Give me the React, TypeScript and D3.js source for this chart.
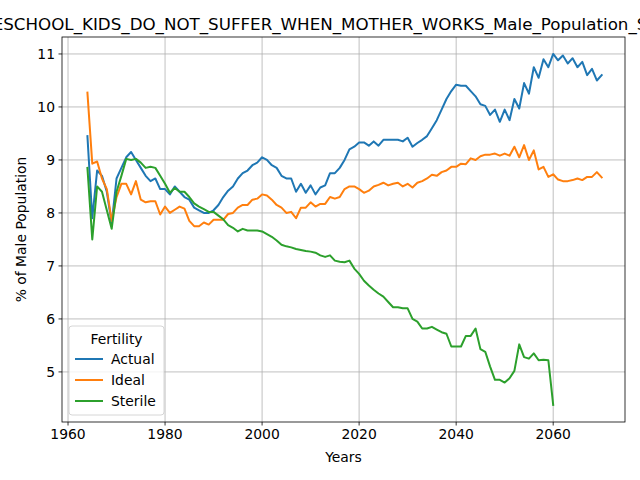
import React from 'react';
import * as d3 from 'd3';

const startYear = 1964;
const actual = [9.45, 7.9, 8.8, 8.7, 8.4, 7.8, 8.65, 8.85, 9.05, 9.15, 9.0, 8.85, 8.7, 8.6, 8.65, 8.45, 8.45, 8.35, 8.5, 8.4, 8.3, 8.25, 8.1, 8.05, 8.0, 8.0, 8.05, 8.15, 8.3, 8.42, 8.5, 8.65, 8.75, 8.8, 8.9, 8.95, 9.05, 9.0, 8.9, 8.85, 8.7, 8.65, 8.65, 8.4, 8.55, 8.38, 8.52, 8.35, 8.48, 8.52, 8.75, 8.75, 8.85, 9.0, 9.2, 9.25, 9.33, 9.33, 9.27, 9.35, 9.27, 9.38, 9.38, 9.38, 9.38, 9.35, 9.42, 9.25, 9.32, 9.38, 9.45, 9.6, 9.75, 9.95, 10.15, 10.3, 10.42, 10.4, 10.4, 10.3, 10.2, 10.05, 10.02, 9.85, 9.95, 9.72, 9.95, 9.75, 10.15, 9.97, 10.45, 10.25, 10.75, 10.55, 10.9, 10.75, 11.0, 10.88, 10.97, 10.82, 10.92, 10.75, 10.85, 10.6, 10.72, 10.5, 10.6];
const ideal = [10.27, 8.93, 8.97, 8.65, 8.45, 7.85, 8.3, 8.55, 8.55, 8.35, 8.6, 8.25, 8.2, 8.22, 8.22, 7.97, 8.12, 8.0, 8.06, 8.12, 8.08, 7.85, 7.75, 7.75, 7.82, 7.78, 7.87, 7.87, 7.87, 7.98, 8.0, 8.1, 8.15, 8.15, 8.25, 8.27, 8.35, 8.33, 8.25, 8.15, 8.1, 8.0, 8.02, 7.9, 8.1, 8.1, 8.2, 8.12, 8.17, 8.17, 8.3, 8.27, 8.3, 8.45, 8.5, 8.5, 8.45, 8.38, 8.42, 8.5, 8.53, 8.57, 8.52, 8.55, 8.57, 8.5, 8.55, 8.48, 8.57, 8.6, 8.65, 8.72, 8.7, 8.77, 8.8, 8.87, 8.87, 8.93, 8.92, 9.03, 9.0, 9.07, 9.1, 9.1, 9.12, 9.08, 9.12, 9.08, 9.25, 9.05, 9.28, 9.0, 9.18, 8.82, 8.87, 8.68, 8.73, 8.63, 8.6, 8.6, 8.62, 8.65, 8.62, 8.68, 8.68, 8.77, 8.67];
const sterile = [8.85, 7.5, 8.5, 8.4, 8.05, 7.7, 8.4, 8.7, 9.02, 9.0, 9.02, 8.95, 8.85, 8.87, 8.85, 8.7, 8.55, 8.38, 8.47, 8.4, 8.4, 8.3, 8.18, 8.12, 8.07, 8.02, 8.02, 7.95, 7.88, 7.77, 7.72, 7.65, 7.7, 7.67, 7.67, 7.67, 7.65, 7.6, 7.55, 7.48, 7.4, 7.37, 7.35, 7.32, 7.3, 7.28, 7.27, 7.25, 7.2, 7.17, 7.2, 7.1, 7.08, 7.07, 7.1, 6.95, 6.85, 6.72, 6.63, 6.55, 6.48, 6.42, 6.32, 6.22, 6.22, 6.2, 6.2, 6.0, 5.95, 5.82, 5.82, 5.85, 5.8, 5.75, 5.72, 5.48, 5.48, 5.48, 5.68, 5.68, 5.82, 5.43, 5.38, 5.1, 4.85, 4.85, 4.8, 4.88, 5.02, 5.52, 5.28, 5.25, 5.35, 5.22, 5.23, 5.22, 4.38];
const seriesNames = ['Actual', 'Ideal', 'Sterile'];
const colors = ['#1f77b4', '#ff7f0e', '#2ca02c'];
const xTicks = [1960, 1980, 2000, 2020, 2040, 2060];
const yTicks = [5, 6, 7, 8, 9, 10, 11];

const W = 640, H = 480;
const left = 62, right = 625, top = 37, bottom = 422;
const font = 'DejaVu Sans, sans-serif';

export default function App() {
  const x = d3.scaleLinear().domain([1958.76, 2074.8]).range([left, right]);
  const y = d3.scaleLinear().domain([4.055, 11.32]).range([bottom, top]);
  const line = d3.line<number>().x((_, i) => x(startYear + i)).y(d => y(d));
  const all = [actual, ideal, sterile];

  return (
    <svg width={W} height={H} style={{ position: 'absolute', left: 0, top: 0, fontFamily: font }}>
      <rect width={W} height={H} fill="#fff" />
      <defs>
        <clipPath id="plot"><rect x={left} y={top} width={right - left} height={bottom - top} /></clipPath>
      </defs>
      {xTicks.map(t => (
        <g key={t}>
          <line x1={x(t)} x2={x(t)} y1={top} y2={bottom} stroke="#b0b0b0" strokeWidth={0.8} />
          <line x1={x(t)} x2={x(t)} y1={bottom} y2={bottom + 3.5} stroke="#000" strokeWidth={0.8} />
          <text x={x(t)} y={bottom + 17} textAnchor="middle" fontSize={13.9}>{t}</text>
        </g>
      ))}
      {yTicks.map(t => (
        <g key={t}>
          <line x1={left} x2={right} y1={y(t)} y2={y(t)} stroke="#b0b0b0" strokeWidth={0.8} />
          <line x1={left - 3.5} x2={left} y1={y(t)} y2={y(t)} stroke="#000" strokeWidth={0.8} />
          <text x={left - 7} y={y(t) + 5} textAnchor="end" fontSize={13.9}>{t}</text>
        </g>
      ))}
      <g clipPath="url(#plot)">
        {all.map((s, i) => (
          <path key={i} d={line(s) || ''} fill="none" stroke={colors[i]} strokeWidth={2} strokeLinejoin="round" strokeLinecap="square" />
        ))}
      </g>
      <rect x={left} y={top} width={right - left} height={bottom - top} fill="none" stroke="#000" strokeWidth={0.8} />
      <text x={328} y={30} textAnchor="middle" fontSize={16.7}>PRESCHOOL_KIDS_DO_NOT_SUFFER_WHEN_MOTHER_WORKS_Male_Population_Share</text>
      <text x={(left + right) / 2} y={462} textAnchor="middle" fontSize={13.9}>Years</text>
      <text transform={`translate(26,${(top + bottom) / 2}) rotate(-90)`} textAnchor="middle" fontSize={13.9}>% of Male Population</text>
      <g transform="translate(69,326)">
        <rect width={95} height={89} rx={3} fill="#fff" fillOpacity={0.8} stroke="#ccc" strokeWidth={0.8} />
        <text x={47.5} y={18} textAnchor="middle" fontSize={13.9}>Fertility</text>
        {seriesNames.map((n, i) => (
          <g key={n} transform={`translate(0,${33 + i * 21})`}>
            <line x1={6} x2={34} y1={0} y2={0} stroke={colors[i]} strokeWidth={2} />
            <text x={42} y={5} fontSize={13.9}>{n}</text>
          </g>
        ))}
      </g>
    </svg>
  );
}
